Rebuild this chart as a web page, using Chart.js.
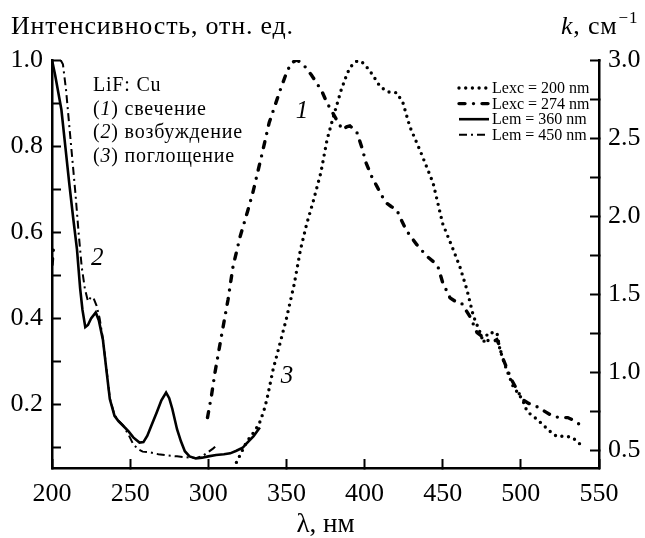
<!DOCTYPE html>
<html>
<head>
<meta charset="utf-8">
<script src="https://cdn.jsdelivr.net/npm/chart.js@4.4.0/dist/chart.umd.min.js"></script>
<style>
  body { margin: 0; background: #fff; }
  #caja { width: 645px; height: 538px; }
</style>
</head>
<body>
<div id="caja"><canvas id="grafico" width="645" height="538"></canvas></div>
<script>
// longitudes de onda (nm) y intensidades
const lexc200X = [318, 321, 324, 327, 330, 333, 335.5, 337.5, 341.5, 346, 350, 355, 359, 363, 367, 372, 376, 380, 385, 389, 392, 395, 398, 403, 407, 410, 415, 420.6, 424.6, 429, 435.5, 443.8, 450, 456.7, 461, 465.5, 469.6, 474, 476, 479, 484.7, 486.6, 490, 495, 501, 504, 509, 514, 518, 523, 528, 533, 538];
const lexc200Y = [0.066, 0.088, 0.11, 0.126, 0.14, 0.16, 0.185, 0.212, 0.282, 0.344, 0.40, 0.48, 0.56, 0.62, 0.67, 0.738, 0.815, 0.868, 0.93, 0.97, 0.988, 0.997, 0.997, 0.977, 0.955, 0.938, 0.926, 0.924, 0.9, 0.845, 0.79, 0.715, 0.62, 0.56, 0.52, 0.467, 0.406, 0.367, 0.344, 0.367, 0.367, 0.328, 0.29, 0.243, 0.212, 0.184, 0.17, 0.154, 0.14, 0.126, 0.127, 0.124, 0.108];

const lexc274X = [200, 201, 250, 299.5, 302, 304.3, 306.5, 308.8, 310.7, 312.6, 315.8, 320.3, 325.4, 328.5, 334, 339, 346, 350, 353, 356.5, 359, 362, 366, 369.5, 373, 376, 380, 383, 386, 388.5, 390.6, 393, 395, 398, 401, 404.5, 408, 411, 414, 417, 420.6, 424, 427, 433.5, 440, 444, 447, 450, 454.7, 458, 462, 467.5, 472, 478, 481.5, 484.6, 486, 488, 494, 501, 505, 510, 515, 520.5, 525, 530, 534, 537.6];
const lexc274Y = [0.525, 0.565, null, 0.17, 0.22, 0.275, 0.32, 0.367, 0.405, 0.443, 0.52, 0.589, 0.652, 0.692, 0.776, 0.855, 0.93, 0.97, 0.993, 1.0, 0.995, 0.984, 0.965, 0.946, 0.925, 0.9, 0.875, 0.855, 0.838, 0.845, 0.847, 0.84, 0.833, 0.8, 0.761, 0.73, 0.706, 0.685, 0.668, 0.66, 0.652, 0.625, 0.603, 0.571, 0.544, 0.532, 0.52, 0.483, 0.448, 0.44, 0.436, 0.404, 0.367, 0.351, 0.344, 0.351, 0.34, 0.312, 0.258, 0.212, 0.203, 0.196, 0.185, 0.173, 0.17, 0.17, 0.163, 0.154];

const lem360X = [200, 202, 204, 206, 208.5, 211, 213.5, 216, 218, 219.5, 221.3, 223, 225, 228, 230, 232.6, 235, 237, 240, 242.5, 245.5, 249, 252, 256, 258.5, 261, 264, 267, 270, 273, 275, 277, 280, 282.5, 285, 288, 292, 296, 300, 305, 310, 314, 318, 322, 325, 329, 333];
const lem360Y = [1.0, 0.965, 0.925, 0.885, 0.80, 0.715, 0.635, 0.56, 0.47, 0.42, 0.38, 0.385, 0.40, 0.414, 0.395, 0.35, 0.275, 0.213, 0.174, 0.162, 0.151, 0.138, 0.124, 0.112, 0.113, 0.128, 0.155, 0.182, 0.21, 0.228, 0.215, 0.19, 0.143, 0.115, 0.092, 0.08, 0.075, 0.077, 0.08, 0.083, 0.085, 0.087, 0.093, 0.10, 0.112, 0.127, 0.147];

const lem450X = [205.5, 207, 209, 211, 213, 215, 217, 219, 221, 223, 225, 226.5, 228.5, 230.5, 232.6, 235, 237, 240, 242.5, 245.5, 249, 252, 255, 258, 263, 268, 274, 280, 286, 292, 296, 300, 303, 306];
const lem450Y = [1.0, 0.99, 0.93, 0.85, 0.77, 0.69, 0.6, 0.52, 0.47, 0.44, 0.45, 0.448, 0.43, 0.40, 0.352, 0.278, 0.215, 0.176, 0.163, 0.152, 0.13, 0.108, 0.097, 0.091, 0.089, 0.085, 0.082, 0.08, 0.078, 0.076, 0.08, 0.09, 0.098, 0.107];

// marcas de los ejes
const ticksLambda = [200, 225, 250, 275, 300, 325, 350, 375, 400, 425, 450, 475, 500, 525, 550];
const ticksInt = [0.1, 0.2, 0.3, 0.4, 0.5, 0.6, 0.7, 0.8, 0.9, 1.0];
const ticksK = [0.5, 0.75, 1.0, 1.25, 1.5, 1.75, 2.0, 2.25, 2.5, 2.75, 3.0];

const etiquetasSerie = ['Lexc = 200 nm', 'Lexc = 274 nm', 'Lem = 360 nm', 'Lem = 450 nm'];

function puntos(xs, ys) {
    return xs.map((x, i) => ({ x: x, y: ys[i] }));
}

const serif = '"Liberation Serif", "Times New Roman", serif';

const textos = {
    id: 'textos',
    afterDraw(chart) {
        const ctx = chart.ctx;
        const a = chart.chartArea;
        const sx = chart.scales.x;
        const sy = chart.scales.y;
        ctx.save();
        ctx.fillStyle = '#000';
        ctx.textBaseline = 'alphabetic';
        ctx.textAlign = 'left';

        // titulos de los ejes verticales
        ctx.letterSpacing = '0.8px';
        ctx.font = '26px ' + serif;
        ctx.fillText('Интенсивность, отн. ед.', 11, 34);
        ctx.font = 'italic 26px ' + serif;
        let x = 561;
        ctx.fillText('k', x, 34);
        x += ctx.measureText('k').width;
        ctx.font = '26px ' + serif;
        ctx.fillText(', см', x, 34);
        x += ctx.measureText(', см').width;
        ctx.font = '17px ' + serif;
        ctx.fillText('\u22121', x + 1, 23);

        // bloque de texto
        ctx.font = '20px ' + serif;
        const x0 = a.left + 41;
        ctx.fillText('LiF: Cu', x0, a.top + 31);
        const filas = [['1', ') свечение'], ['2', ') возбуждение'], ['3', ') поглощение']];
        filas.forEach((f, i) => {
            const yb = a.top + 54.5 + i * 23.5;
            let xx = x0;
            ctx.font = '20px ' + serif;
            ctx.fillText('(', xx, yb);
            xx += ctx.measureText('(').width;
            ctx.font = 'italic 20px ' + serif;
            ctx.fillText(f[0], xx, yb);
            xx += ctx.measureText(f[0]).width;
            ctx.font = '20px ' + serif;
            ctx.fillText(f[1], xx, yb);
        });

        // numeros de curva
        ctx.letterSpacing = '0px';
        ctx.font = 'italic 25px ' + serif;
        ctx.textAlign = 'center';
        ctx.textBaseline = 'middle';
        ctx.fillText('1', sx.getPixelForValue(360), sy.getPixelForValue(0.88));
        ctx.fillText('2', sx.getPixelForValue(229), sy.getPixelForValue(0.54));
        ctx.fillText('3', sx.getPixelForValue(350.4), sy.getPixelForValue(0.265));
        ctx.restore();
    }
};

const leyenda = {
    id: 'leyenda',
    afterDatasetsDraw(chart) {
        const ctx = chart.ctx;
        const a = chart.chartArea;
        const x0 = a.right - 141;
        chart.data.datasets.forEach((ds, i) => {
            const y = a.top + 28 + i * 15.6;
            ctx.save();
            ctx.strokeStyle = ds.borderColor;
            ctx.lineWidth = ds.borderWidth;
            ctx.lineCap = ds.borderCapStyle || 'butt';
            ctx.setLineDash(ds.borderDash || []);
            ctx.beginPath();
            ctx.moveTo(x0 + 1, y);
            ctx.lineTo(x0 + 31, y);
            ctx.stroke();
            ctx.setLineDash([]);
            ctx.fillStyle = '#000';
            ctx.font = '16px ' + serif;
            ctx.textBaseline = 'middle';
            ctx.fillText(ds.label, x0 + 34, y + 1);
            ctx.restore();
        });
    }
};

const ejeComun = {
    grid: { drawOnChartArea: false, drawTicks: true, tickLength: -9, tickWidth: 2, tickColor: '#000' },
    border: { display: true, color: '#000', width: 2.5 }
};

const ctx = document.getElementById('grafico').getContext('2d');
const grafico = new Chart(ctx, {
    type: 'line',
    data: {
        datasets: [
            {
                label: etiquetasSerie[0],
                data: puntos(lexc200X, lexc200Y),
                borderColor: '#000',
                borderWidth: 3.4,
                borderDash: [0, 6.7],
                borderCapStyle: 'round',
                yAxisID: 'y'
            },
            {
                label: etiquetasSerie[1],
                data: puntos(lexc274X, lexc274Y),
                borderColor: '#000',
                borderWidth: 3.4,
                borderDash: [6, 8.5, 0, 8.5],
                borderCapStyle: 'round',
                yAxisID: 'y'
            },
            {
                label: etiquetasSerie[2],
                data: puntos(lem360X, lem360Y),
                borderColor: '#000',
                borderWidth: 2.6,
                yAxisID: 'y'
            },
            {
                label: etiquetasSerie[3],
                data: puntos(lem450X, lem450Y),
                borderColor: '#000',
                borderWidth: 2,
                borderDash: [8, 4, 2, 4],
                yAxisID: 'y'
            }
        ]
    },
    options: {
        responsive: false,
        animation: false,
        layout: { padding: { top: 60, left: 0, right: 0, bottom: 0 } },
        elements: { point: { radius: 0 }, line: { tension: 0, fill: false } },
        plugins: { legend: { display: false }, tooltip: { enabled: false } },
        scales: {
            x: Object.assign({}, ejeComun, {
                type: 'linear',
                min: 200,
                max: 550,
                afterBuildTicks: s => { s.ticks = ticksLambda.map(v => ({ value: v })); },
                afterFit: s => { s.height = 70; },
                ticks: {
                    padding: 20,
                    maxRotation: 0,
                    color: '#000',
                    font: { family: serif, size: 26 },
                    callback: v => (v % 50 === 0 ? String(v) : '')
                },
                title: {
                    display: true,
                    text: 'λ, нм',
                    color: '#000',
                    font: { family: serif, size: 27, lineHeight: 1 },
                    padding: { top: 0, bottom: 0 }
                }
            }),
            y: Object.assign({}, ejeComun, {
                type: 'linear',
                position: 'left',
                min: 0.053,
                max: 1.0,
                afterBuildTicks: s => { s.ticks = ticksInt.map(v => ({ value: v })); },
                afterFit: s => { s.width = 52; },
                ticks: {
                    padding: 18,
                    color: '#000',
                    font: { family: serif, size: 26 },
                    callback: v => (Math.round(v * 10) % 2 === 0 ? v.toFixed(1) : '')
                }
            }),
            k: Object.assign({}, ejeComun, {
                type: 'linear',
                position: 'right',
                min: 0.385,
                max: 3.0,
                afterBuildTicks: s => { s.ticks = ticksK.map(v => ({ value: v })); },
                afterFit: s => { s.width = 46; },
                ticks: {
                    padding: 18,
                    color: '#000',
                    font: { family: serif, size: 26 },
                    callback: v => (Math.round(v * 4) % 2 === 0 ? v.toFixed(1) : '')
                }
            })
        }
    },
    plugins: [leyenda, textos]
});
</script>
</body>
</html>
